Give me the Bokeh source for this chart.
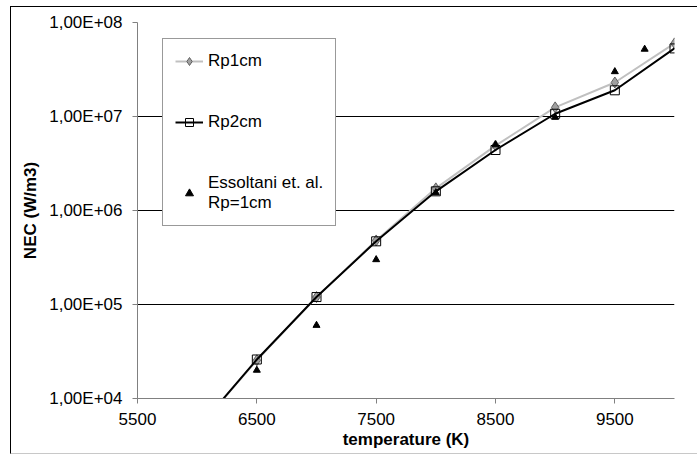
from bokeh.plotting import figure
from bokeh.models import Range1d, FixedTicker, Legend, LegendItem
from bokeh.embed import file_html
from bokeh.resources import INLINE

# ---- data ----
temps = [6000, 6500, 7000, 7500, 8000, 8500, 9000, 9500, 10000]
rp1cm = [4.7e3, 2.55e4, 1.2e5, 4.8e5, 1.72e6, 4.9e6, 1.25e7, 2.3e7, 6.0e7]
rp2cm = [4.7e3, 2.6e4, 1.2e5, 4.7e5, 1.6e6, 4.4e6, 1.07e7, 1.9e7, 5.3e7]
ess_temps = [6500, 7000, 7500, 8000, 8500, 9000, 9500, 9750]
ess_vals = [2.0e4, 6.0e4, 3.0e5, 1.55e6, 5.0e6, 9.8e6, 3.0e7, 5.2e7]
x_ticks = [5500, 6500, 7500, 8500, 9500]
y_ticks = [10000, 100000, 1000000, 10000000, 100000000]
y_tick_labels = ["1,00E+04", "1,00E+05", "1,00E+06", "1,00E+07", "1,00E+08"]

FONT = "Liberation Sans"
FS = "17px"

p = figure(width=687, height=448, y_axis_type="log",
           x_range=Range1d(5500, 10000), y_range=Range1d(1e4, 1e8),
           output_backend="svg", toolbar_location=None,
           min_border_left=126, min_border_right=24,
           min_border_top=15, min_border_bottom=57,
           styles={"margin-left": "10px", "margin-top": "6px",
                   "border-left": "1px solid #000",
                   "border-top": "1px solid #000",
                   "border-bottom": "1px solid #c8c8c8"})
p.outline_line_color = None
p.background_fill_color = "white"

l1 = p.line(temps, rp1cm, line_color="#c0c0c0", line_width=2)
s1 = p.scatter(temps, rp1cm, marker="diamond", size=11,
               fill_color="#a0a0a0", line_color="#606060", line_width=1)
l2 = p.line(temps, rp2cm, line_color="black", line_width=2)
s2 = p.scatter(temps, rp2cm, marker="square", size=9,
               fill_color=None, line_color="black", line_width=1)
s3 = p.scatter(ess_temps, ess_vals, marker="triangle", size=7,
               fill_color="black", line_color="black")

# axes
p.xaxis.ticker = FixedTicker(ticks=x_ticks)
p.yaxis.ticker = FixedTicker(ticks=y_ticks)
p.yaxis.major_label_overrides = dict(zip(y_ticks, y_tick_labels))
for ax in (p.xaxis[0], p.yaxis[0]):
    ax.axis_line_color = "#808080"
    ax.major_tick_line_color = "#808080"
    ax.minor_tick_line_color = None
    ax.major_tick_in = 0
    ax.major_tick_out = 5
    ax.major_label_text_font = FONT
    ax.major_label_text_font_size = FS
    ax.major_label_text_color = "black"
    ax.axis_label_text_font = FONT
    ax.axis_label_text_font_size = FS
    ax.axis_label_text_font_style = "bold"
    ax.axis_label_text_color = "black"
p.xaxis.axis_label = "temperature (K)"
p.yaxis.axis_label = "NEC (W/m3)"
p.xaxis.major_label_standoff = 9
p.xaxis.axis_label_standoff = 2
p.yaxis.major_label_standoff = 10
p.yaxis.axis_label_standoff = 6

p.xgrid.grid_line_color = None
p.ygrid.grid_line_color = "black"
p.ygrid.grid_line_width = 1

legend = Legend(items=[
    LegendItem(label="Rp1cm", renderers=[l1, s1]),
    LegendItem(label="Rp2cm", renderers=[l2, s2]),
    LegendItem(label="Essoltani et. al.\nRp=1cm", renderers=[s3]),
], location=(25, 172))
legend.label_text_font = FONT
legend.label_text_font_size = FS
legend.label_text_color = "black"
legend.label_text_line_height = 1.18
legend.glyph_width = 28
legend.glyph_height = 20
legend.label_height = 20
legend.label_standoff = 5
legend.padding = 12
legend.spacing = 41
legend.border_line_color = "#333333"
legend.border_line_width = 1
legend.background_fill_color = "white"
legend.background_fill_alpha = 1
p.add_layout(legend)

open("out.html", "w").write(file_html(p, INLINE))
